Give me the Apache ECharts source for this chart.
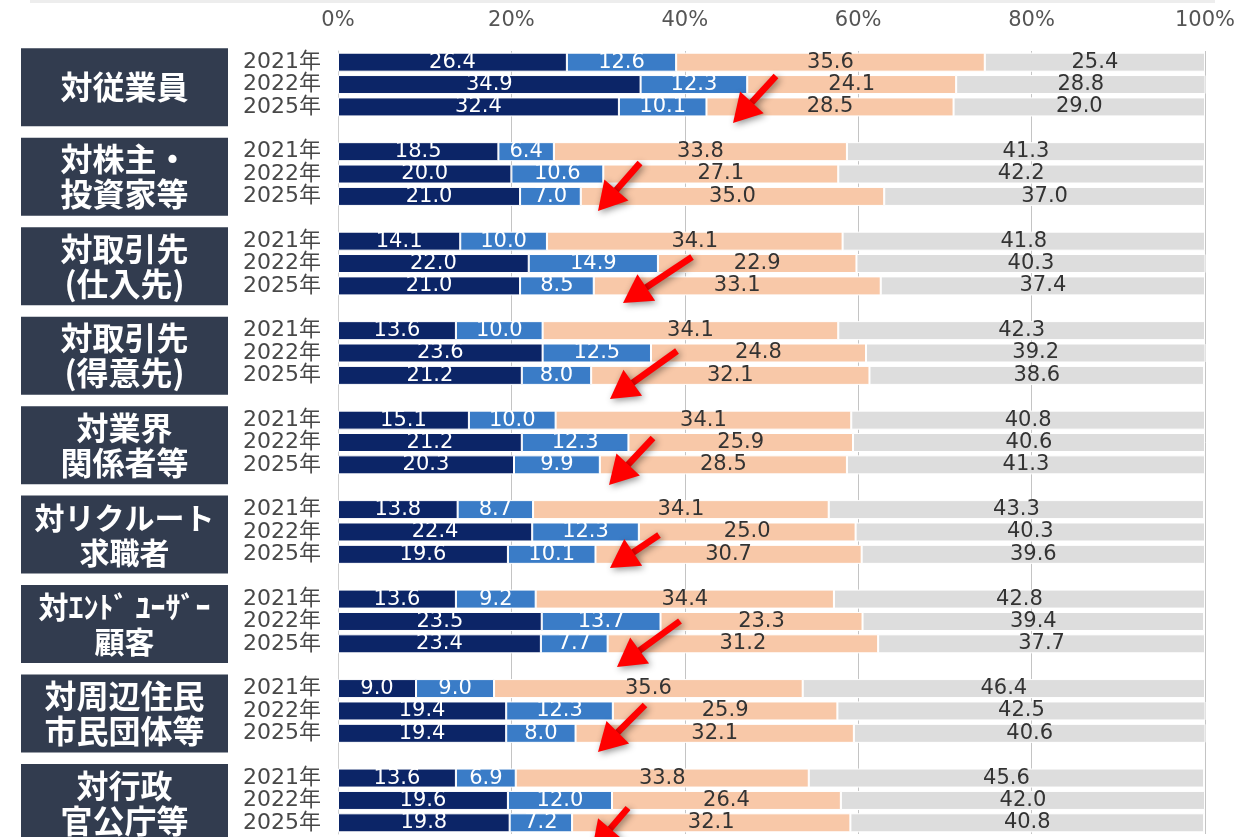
<!DOCTYPE html>
<html>
<head>
<meta charset="utf-8">
<script src="https://cdn.jsdelivr.net/npm/echarts@6/dist/echarts.min.js"></script>
<style>
  html, body { margin: 0; padding: 0; background: #ffffff; }
  #chart { width: 1241px; height: 837px; }
</style>
</head>
<body>
<div id="chart"></div>
<script>
// Stakeholder groups (row blocks) and survey years within each block
const groups = [
  '対従業員',
  '対株主・\n投資家等',
  '対取引先\n(仕入先)',
  '対取引先\n(得意先)',
  '対業界\n関係者等',
  '対リクルート\n求職者',
  '対ｴﾝﾄﾞ ﾕｰｻﾞｰ\n顧客',
  '対周辺住民\n市民団体等',
  '対行政\n官公庁等'
];
const years = ['2021年', '2022年', '2025年'];
const xTicks = [0, 20, 40, 60, 80, 100];

// Shares (%) per group, ordered 2021, 2022, 2025
const segNavy = [26.4, 34.9, 32.4, 18.5, 20.0, 21.0, 14.1, 22.0, 21.0, 13.6, 23.6, 21.2, 15.1, 21.2, 20.3,
                 13.8, 22.4, 19.6, 13.6, 23.5, 23.4, 9.0, 19.4, 19.4, 13.6, 19.6, 19.8];
const segBlue = [12.6, 12.3, 10.1, 6.4, 10.6, 7.0, 10.0, 14.9, 8.5, 10.0, 12.5, 8.0, 10.0, 12.3, 9.9,
                 8.7, 12.3, 10.1, 9.2, 13.7, 7.7, 9.0, 12.3, 8.0, 6.9, 12.0, 7.2];
const segPeach = [35.6, 24.1, 28.5, 33.8, 27.1, 35.0, 34.1, 22.9, 33.1, 34.1, 24.8, 32.1, 34.1, 25.9, 28.5,
                  34.1, 25.0, 30.7, 34.4, 23.3, 31.2, 35.6, 25.9, 32.1, 33.8, 26.4, 32.1];
const segGray = [25.4, 28.8, 29.0, 41.3, 42.2, 37.0, 41.8, 40.3, 37.4, 42.3, 39.2, 38.6, 40.8, 40.6, 41.3,
                 43.3, 40.3, 39.6, 42.8, 39.4, 37.7, 46.4, 42.5, 40.6, 45.6, 42.0, 40.8];

const FONT = "'DejaVu Sans', 'Noto Sans CJK JP', sans-serif";

// Category slots: three years per group, then a blank spacer slot between groups
const categories = [];
const slotIndex = []; // maps data index -> slot
groups.forEach((g, gi) => {
  years.forEach((y, yi) => {
    slotIndex.push(categories.length);
    categories.push(gi + '|' + y);
  });
  if (gi < groups.length - 1) categories.push(gi + '|gap');
});

function toSlots(values) {
  const out = categories.map(() => '-');
  values.forEach((v, i) => { out[slotIndex[i]] = v; });
  return out;
}

function makeSeries(name, values, color, labelColor) {
  return {
    name: name,
    type: 'bar',
    stack: 'total',
    barWidth: 19,
    data: toSlots(values),
    itemStyle: { color: color, borderColor: '#ffffff', borderWidth: 1 },
    label: {
      show: true,
      position: 'inside',
      color: labelColor,
      fontFamily: FONT,
      fontSize: 21,
      formatter: p => (typeof p.value === 'number' ? p.value.toFixed(1) : '')
    },
    emphasis: { disabled: true },
    animation: false
  };
}

const chart = echarts.init(document.getElementById('chart'), null, { renderer: 'canvas' });

chart.setOption({
  animation: false,
  backgroundColor: '#ffffff',
  grid: { left: 338, right: 36, top: 51, bottom: 3, containLabel: false },
  xAxis: {
    type: 'value',
    position: 'top',
    min: 0,
    max: 100,
    interval: 20,
    axisLine: { show: false },
    axisTick: { show: false },
    splitLine: { show: true, lineStyle: { color: '#c4c4c4', width: 1 } },
    axisLabel: {
      margin: 20,
      color: '#555555',
      fontFamily: FONT,
      fontSize: 21,
      formatter: v => (xTicks.indexOf(v) >= 0 ? v + '%' : '')
    }
  },
  yAxis: {
    type: 'category',
    inverse: true,
    data: categories,
    axisLine: { show: true, lineStyle: { color: '#cfcfcf', width: 1 } },
    axisTick: { show: false },
    axisLabel: {
      margin: 17,
      color: '#484848',
      fontFamily: FONT,
      fontSize: 22,
      interval: 0,
      formatter: v => {
        const part = v.split('|')[1];
        return part === 'gap' ? '' : part;
      }
    }
  },
  series: [
    makeSeries('navy', segNavy, '#0c2567', '#ffffff'),
    makeSeries('blue', segBlue, '#3a7cc7', '#ffffff'),
    makeSeries('peach', segPeach, '#f8c8a8', '#333333'),
    makeSeries('gray', segGray, '#dddddd', '#333333')
  ]
});

// Group name blocks on the left, placed against each group's first bar
function labelSize(text) {
  const lines = text.split('\n');
  let maxW = 0;
  lines.forEach(line => {
    let w = 0;
    for (const ch of line) {
      const c = ch.charCodeAt(0);
      w += (c < 0x2000 || (c >= 0xff61 && c <= 0xff9f)) ? 0.5 : 1;
    }
    maxW = Math.max(maxW, w);
  });
  return Math.min(32, Math.floor(180 / maxW));
}

const graphics = [];
groups.forEach((g, gi) => {
  const yFirst = chart.convertToPixel({ yAxisIndex: 0 }, gi + '|' + years[0]);
  const top = yFirst - 14;
  graphics.push({
    type: 'rect',
    shape: { x: 21, y: top, width: 207, height: 78 },
    style: { fill: '#323c4f' },
    silent: true
  });
  graphics.push({
    type: 'text',
    x: 124.5,
    y: top + 39,
    style: {
      text: g,
      fill: '#ffffff',
      font: 'bold ' + labelSize(g) + "px 'Noto Sans CJK JP', sans-serif",
      align: 'center',
      verticalAlign: 'middle',
      lineHeight: 35
    },
    silent: true
  });
});

// Red call-out arrows (tail -> tip) pointing at each 2025 bar
const arrowPaths = [
  [[776, 76], [733, 123]],
  [[640, 163], [598, 211]],
  [[692, 257], [623, 303]],
  [[677, 351], [610, 399]],
  [[653, 438], [609, 485]],
  [[659, 535], [610, 568]],
  [[680, 621], [617, 667]],
  [[645, 705], [598, 752]],
  [[628, 808], [592, 850]]
];
arrowPaths.forEach(([tail, tip]) => {
  const dx = tip[0] - tail[0], dy = tip[1] - tail[1];
  const len = Math.sqrt(dx * dx + dy * dy);
  const ux = dx / len, uy = dy / len;
  const px = -uy, py = ux;
  const headLen = 28, headW = 16;
  const bx = tip[0] - ux * headLen, by = tip[1] - uy * headLen;
  const shadow = { shadowColor: 'rgba(0,0,0,0.45)', shadowBlur: 7, shadowOffsetX: 2, shadowOffsetY: 2 };
  graphics.push({
    type: 'line',
    shape: { x1: tail[0], y1: tail[1], x2: bx + ux * 2, y2: by + uy * 2 },
    style: Object.assign({ stroke: '#ff0000', lineWidth: 6.5, lineCap: 'butt' }, shadow),
    z: 100,
    silent: true
  });
  graphics.push({
    type: 'polygon',
    shape: { points: [tip, [bx + px * headW, by + py * headW], [bx - px * headW, by - py * headW]] },
    style: Object.assign({ fill: '#ff0000' }, shadow),
    z: 101,
    silent: true
  });
});

// Faint frame edge along the top
graphics.push({
  type: 'rect',
  shape: { x: 30, y: 0, width: 1185, height: 3 },
  style: { fill: '#ededed' },
  silent: true
});

chart.setOption({ graphic: graphics });
</script>
</body>
</html>
